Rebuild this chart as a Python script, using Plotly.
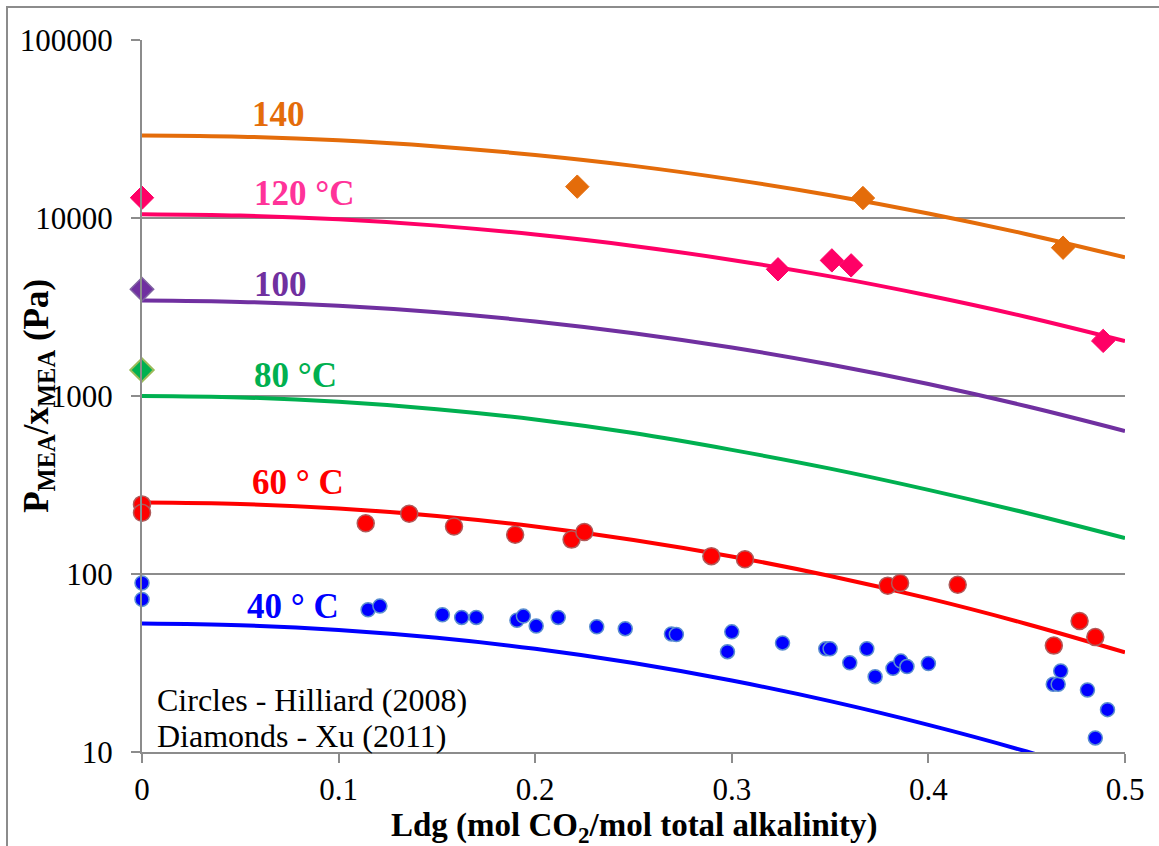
import plotly.graph_objects as go

# CO2 loading grid for the model curves (mol CO2 / mol total alkalinity)
ldg_grid = [0.0, 0.05, 0.10, 0.15, 0.20, 0.25, 0.30, 0.35, 0.40, 0.45, 0.50]

# Model P_MEA / x_MEA (Pa) at each loading, per temperature
fit_140 = [29100, 28650, 27340, 25240, 22590, 19630, 16480, 13430, 10610, 8110, 6010]
fit_120 = [10500, 10320, 9830, 9060, 8070, 6970, 5815, 4700, 3670, 2780, 2035]
fit_100 = [3436, 3379, 3211, 2953, 2623, 2254, 1872, 1503, 1167, 876, 636]
fit_80 = [1000, 982, 927, 843, 738, 619, 498, 391, 297, 220, 159]
fit_60 = [252, 247.5, 233.5, 212, 185, 155.4, 125.5, 97.5, 72.9, 52.4, 36.3]
fit_40 = [52.7, 51.6, 48.5, 43.8, 38.0, 31.6, 25.2, 19.3, 14.2, 10.06, 6.82]

# Hilliard (2008) measurements
hill40_ldg = [0, 0, 0.115, 0.121, 0.1528, 0.1626, 0.170, 0.1907, 0.194, 0.2005, 0.2117,
              0.2313, 0.2458, 0.2693, 0.2718, 0.2978, 0.300, 0.3258, 0.3478, 0.350,
              0.360, 0.3687, 0.3729, 0.382, 0.386, 0.3891, 0.400, 0.4635, 0.466,
              0.4673, 0.4809, 0.4849, 0.4911]
hill40_p = [89, 72, 63, 66, 59, 57, 57, 55, 58, 51, 57,
            50.5, 49.3, 46, 45.7, 36.6, 47.3, 41, 38, 38,
            31.7, 38, 26.5, 29.5, 32.4, 30.2, 31.4, 24, 24,
            28.5, 22.3, 12, 17.3]
hill60_ldg = [0, 0, 0.1138, 0.1359, 0.1587, 0.1898, 0.2185, 0.225, 0.2896, 0.3067,
              0.3793, 0.3856, 0.4149, 0.4638, 0.4769, 0.4849]
hill60_p = [246, 221, 193, 218, 185, 166, 156, 172, 126, 121,
            86, 89, 87, 39.6, 54.5, 44.2]

# Xu (2011) measurements
xu80_ldg = [0]
xu80_p = [1400]
xu100_ldg = [0]
xu100_p = [3980]
xu120_ldg = [0, 0.3235, 0.3509, 0.3607, 0.4889]
xu120_p = [13000, 5150, 5780, 5420, 2040]
xu140_ldg = [0.2214, 0.3667, 0.4685]
xu140_p = [15000, 12950, 6810]

x_ticks = [0, 0.1, 0.2, 0.3, 0.4, 0.5]
x_tick_text = ["0", "0.1", "0.2", "0.3", "0.4", "0.5"]
y_ticks = [10, 100, 1000, 10000, 100000]
y_tick_text = ["10", "100", "1000", "10000", "100000"]

ORANGE = "#E46C0A"
PINK = "#FF0066"
PURPLE = "#7030A0"
GREEN = "#00B050"
RED = "#FF0000"
BLUE = "#0000FF"
GRID = "#8C8C8C"
SERIF = "Times New Roman"

fig = go.Figure()

for ys, col in [(fit_140, ORANGE), (fit_120, PINK), (fit_100, PURPLE),
                (fit_80, GREEN), (fit_60, RED), (fit_40, BLUE)]:
    fig.add_trace(go.Scatter(x=ldg_grid, y=ys, mode="lines",
                             line=dict(color=col, width=4, shape="spline"),
                             showlegend=False, hoverinfo="skip"))

def diamonds(xs, ys, fill, edge, ew):
    fig.add_trace(go.Scatter(x=xs, y=ys, mode="markers", cliponaxis=False,
                             marker=dict(symbol="diamond", size=18, color=fill,
                                         line=dict(color=edge, width=ew)),
                             showlegend=False))

diamonds(xu140_ldg, xu140_p, ORANGE, ORANGE, 1)
diamonds(xu120_ldg, xu120_p, PINK, PINK, 1)
diamonds(xu100_ldg, xu100_p, PURPLE, "#8064A2", 1.5)
diamonds(xu80_ldg, xu80_p, GREEN, "#9BBB59", 2)

fig.add_trace(go.Scatter(x=hill60_ldg, y=hill60_p, mode="markers", cliponaxis=False,
                         marker=dict(symbol="circle", size=17, color=RED,
                                     line=dict(color="#B05A5A", width=1.5)),
                         showlegend=False))
fig.add_trace(go.Scatter(x=hill40_ldg, y=hill40_p, mode="markers", cliponaxis=False,
                         marker=dict(symbol="circle", size=14, color=BLUE,
                                     line=dict(color="#5B8FD0", width=1.5)),
                         showlegend=False))

# Temperature labels beside each curve
labels = [
    ("140", 0.0549, 4.582, ORANGE),
    ("120 °C", 0.0560, 4.138, "#FF3399"),
    ("100", 0.0560, 3.627, PURPLE),
    ("80 °C", 0.0560, 3.116, GREEN),
    ("60 ° C", 0.0549, 2.515, RED),
    ("40 ° C", 0.0524, 1.819, BLUE),
]
for txt, lx, ly, col in labels:
    fig.add_annotation(x=lx, y=ly, xref="x", yref="y", text=f"<b>{txt}</b>",
                       showarrow=False, xanchor="left", yanchor="middle",
                       font=dict(family=SERIF, size=35, color=col))

fig.add_annotation(x=0.0066, y=1.292, xref="x", yref="y", text="Circles - Hilliard (2008)",
                   showarrow=False, xanchor="left", yanchor="middle",
                   font=dict(family=SERIF, size=32, color="black"))
fig.add_annotation(x=0.0066, y=1.088, xref="x", yref="y", text="Diamonds - Xu (2011)",
                   showarrow=False, xanchor="left", yanchor="middle",
                   font=dict(family=SERIF, size=32, color="black"))

# Axis titles
fig.add_annotation(x=0.5, y=-0.106, xref="paper", yref="paper",
                   text="<b>Ldg (mol CO<sub>2</sub>/mol total alkalinity)</b>",
                   showarrow=False, xanchor="center", yanchor="middle",
                   font=dict(family=SERIF, size=33, color="black"))
fig.add_annotation(x=-0.106, y=0.5, xref="paper", yref="paper",
                   text="<b>P<sub>MEA</sub>/x<sub>MEA</sub> (Pa)</b>", textangle=-90,
                   showarrow=False, xanchor="center", yanchor="middle",
                   font=dict(family=SERIF, size=35, color="black"))

# Outer frame
fig.add_shape(type="rect", xref="paper", yref="paper",
              x0=(7 - 142) / 983, x1=(1170 - 142) / 983,
              y0=(752 - 860) / 712, y1=(752 - 7) / 712,
              line=dict(color="#8C8C8C", width=2), fillcolor="rgba(0,0,0,0)", layer="below")

fig.update_xaxes(range=[0, 0.5], tickvals=x_ticks, ticktext=x_tick_text,
                 showgrid=False, zeroline=False, showline=True, linecolor=GRID, linewidth=2,
                 ticks="outside", ticklen=9, tickwidth=2, tickcolor=GRID,
                 ticklabelstandoff=0,
                 tickfont=dict(family=SERIF, size=31, color="black"))
fig.update_yaxes(type="log", range=[1, 5], tickvals=y_ticks, ticktext=y_tick_text,
                 showgrid=True, gridcolor=GRID, gridwidth=2, zeroline=False,
                 showline=True, linecolor=GRID, linewidth=2,
                 ticks="outside", ticklen=9, tickwidth=2, tickcolor=GRID,
                 ticklabelstandoff=12,
                 tickfont=dict(family=SERIF, size=31, color="black"))

fig.update_layout(width=1159, height=846, margin=dict(l=142, r=34, t=40, b=94),
                  paper_bgcolor="white", plot_bgcolor="white", showlegend=False,
                  font=dict(family=SERIF))

fig.write_html("out.html")
